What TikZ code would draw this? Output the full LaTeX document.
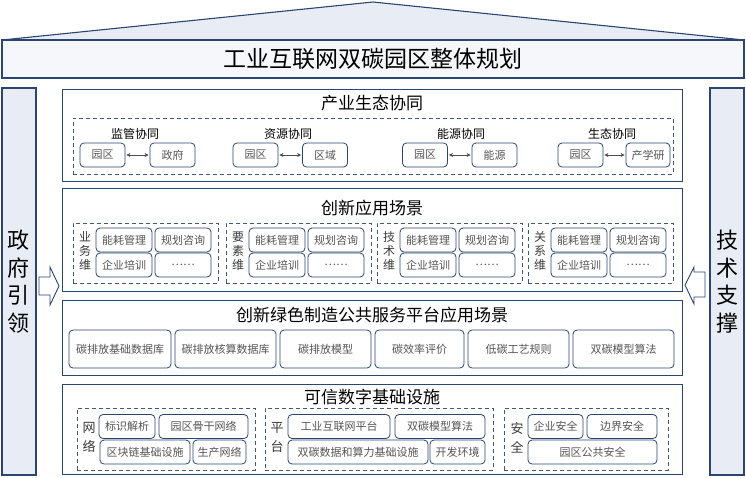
\documentclass[tikz,border=0pt]{standalone}
\usepackage{fontspec}
\setmainfont{Noto Sans CJK SC}
\usetikzlibrary{arrows.meta}
\newcommand{\fsz}[2]{\fontsize{#1}{#2}\selectfont}

\definecolor{navy}{HTML}{2B4570}
\definecolor{panelfill}{HTML}{E8EDF5}
\definecolor{boxfill}{HTML}{F5F7FA}
\definecolor{txtgray}{HTML}{555555}
\definecolor{lblgray}{HTML}{3A3A3A}

\tikzset{
    panel/.style={draw=navy, line width=1.1pt, fill=panelfill, inner sep=0pt},
    section/.style={draw=navy, line width=1pt, fill=white, inner sep=0pt},
    dashbox/.style={draw=navy!90, line width=0.9pt, dash pattern=on 4pt off 3pt, inner sep=0pt},
    item/.style={draw=navy, line width=0.8pt, rounded corners=4pt, fill=white, inner sep=1pt,
        minimum height=24, font=\fsz{11}{13}, text=txtgray},
    sectitle/.style={font=\fsz{17}{20}, text=black},
    grptitle/.style={font=\fsz{12}{14}, text=black},
    vlabel/.style={align=center, inner sep=0pt, text=lblgray},
    link/.style={{Stealth[length=4pt,width=4pt]}-{Stealth[length=4pt,width=4pt]}, line width=0.6pt, black!70, shorten <=1pt, shorten >=1pt},
    blockarrow/.style={draw=navy, line width=0.9pt, fill=white, line join=miter},
}

\begin{document}
\begin{tikzpicture}[x=1pt, y=-1pt]
    \useasboundingbox (0,0) rectangle (746,477);

    % Roof and title
    \coordinate (roofL) at (2,40);
    \coordinate (roofT) at (373,2);
    \coordinate (roofR) at (744,40);
    \draw[panel] (roofL) -- (roofT) -- (roofR) -- cycle;
    \node[panel, fill=boxfill, minimum width=742, minimum height=38, font=\fsz{23}{26}] (plan) at (373,59) {工业互联网双碳园区整体规划};

    % Side panels
    \node[panel, minimum width=34, minimum height=387, align=center, font=\fsz{22}{27.5}] (gov) at (19,281.5) {政\\府\\引\\领};
    \node[panel, minimum width=34, minimum height=387, align=center, font=\fsz{22}{27.5}] (tech) at (727,281.5) {技\\术\\支\\撑};

    % Block arrows
    \draw[blockarrow] (39,277) -- (50,277) -- (50,267) -- (59,286) -- (50,305) -- (50,295) -- (39,295) -- cycle;
    \draw[blockarrow] (705,272) -- (694,272) -- (694,267) -- (685,285) -- (694,304) -- (694,297) -- (705,297) -- cycle;

    % Industry ecology
    \node[section, minimum width=620, minimum height=92] (eco) at (372,135) {};
    \node[sectitle] (ecoT) at (372,103) {产业生态协同};
    \node[dashbox, minimum width=600, minimum height=56] (ecoD) at (373,146) {};

    \node[grptitle] (sup) at (135,134) {监管协同};
    \node[item, minimum width=45] (supA) at (102.5,155) {园区};
    \node[item, minimum width=45] (supB) at (172.5,155) {政府};
    \draw[link] (supA) -- (supB);

    \node[grptitle] (res) at (288,134) {资源协同};
    \node[item, minimum width=45] (resA) at (255.5,155) {园区};
    \node[item, minimum width=45] (resB) at (325,155) {区域};
    \draw[link] (resA) -- (resB);

    \node[grptitle] (ene) at (461,134) {能源协同};
    \node[item, minimum width=45] (eneA) at (425,155) {园区};
    \node[item, minimum width=45] (eneB) at (494.5,155) {能源};
    \draw[link] (eneA) -- (eneB);

    \node[grptitle] (bio) at (612,134) {生态协同};
    \node[item, minimum width=45] (bioA) at (580.5,155) {园区};
    \node[item, minimum width=44] (bioB) at (648,155) {产学研};
    \draw[link] (bioA) -- (bioB);

    % Innovation scenes
    \node[section, minimum width=620, minimum height=103] (app) at (372,239.5) {};
    \node[sectitle] (appT) at (372,208) {创新应用场景};

    \node[dashbox, minimum width=145, minimum height=60] (bizD) at (145.5,253) {};
    \node[vlabel, font=\fsz{12}{14}] (biz) at (85,251) {业\\务\\维};
    \node[item, minimum width=56] (biz1) at (124,240) {能耗管理};
    \node[item, minimum width=56] (biz2) at (183,240) {规划咨询};
    \node[item, minimum width=56] (biz3) at (124,265) {企业培训};
    \node[item, minimum width=56] (biz4) at (183,265) {……};

    \node[dashbox, minimum width=145, minimum height=60] (facD) at (298.5,253) {};
    \node[vlabel, font=\fsz{12}{14}] (fac) at (238,251) {要\\素\\维};
    \node[item, minimum width=56] (fac1) at (277,240) {能耗管理};
    \node[item, minimum width=56] (fac2) at (336,240) {规划咨询};
    \node[item, minimum width=56] (fac3) at (277,265) {企业培训};
    \node[item, minimum width=56] (fac4) at (336,265) {……};

    \node[dashbox, minimum width=145, minimum height=60] (tecD) at (449.5,253) {};
    \node[vlabel, font=\fsz{12}{14}] (tec) at (389,251) {技\\术\\维};
    \node[item, minimum width=56] (tec1) at (428,240) {能耗管理};
    \node[item, minimum width=56] (tec2) at (487,240) {规划咨询};
    \node[item, minimum width=56] (tec3) at (428,265) {企业培训};
    \node[item, minimum width=56] (tec4) at (487,265) {……};

    \node[dashbox, minimum width=145, minimum height=60] (relD) at (600.5,253) {};
    \node[vlabel, font=\fsz{12}{14}] (rel) at (540,251) {关\\系\\维};
    \node[item, minimum width=56] (rel1) at (579,240) {能耗管理};
    \node[item, minimum width=56] (rel2) at (638,240) {规划咨询};
    \node[item, minimum width=56] (rel3) at (579,265) {企业培训};
    \node[item, minimum width=56] (rel4) at (638,265) {……};

    % Green manufacturing platform
    \node[section, minimum width=620, minimum height=75] (plat) at (372,337.5) {};
    \node[sectitle] (platT) at (372,315) {创新绿色制造公共服务平台应用场景};
    \node[item, minimum width=102, minimum height=38] (plat1) at (120,349) {碳排放基础数据库};
    \node[item, minimum width=101, minimum height=38] (plat2) at (225.5,349) {碳排放核算数据库};
    \node[item, minimum width=91, minimum height=38] (plat3) at (325.5,349) {碳排放模型};
    \node[item, minimum width=89, minimum height=38] (plat4) at (419.5,349) {碳效率评价};
    \node[item, minimum width=101, minimum height=38] (plat5) at (518.5,349) {低碳工艺规则};
    \node[item, minimum width=101, minimum height=38] (plat6) at (623.5,349) {双碳模型算法};

    % Trusted digital infrastructure
    \node[section, minimum width=620, minimum height=90] (infra) at (372,429) {};
    \node[sectitle] (infraT) at (372,397) {可信数字基础设施};

    \node[dashbox, minimum width=178, minimum height=62] (netD) at (166,439) {};
    \node[vlabel, font=\fsz{13}{19}] (net) at (89,437.5) {网\\络};
    \node[item, minimum width=56] (net1) at (127,426.5) {标识解析};
    \node[item, minimum width=89] (net2) at (203.5,426.5) {园区骨干网络};
    \node[item, minimum width=90] (net3) at (145,452) {区块链基础设施};
    \node[item, minimum width=53] (net4) at (219.5,452) {生产网络};

    \node[dashbox, minimum width=228, minimum height=62] (pfD) at (379,439) {};
    \node[vlabel, font=\fsz{13}{19}] (pf) at (277,437.5) {平\\台};
    \node[item, minimum width=102] (pf1) at (339,426.5) {工业互联网平台};
    \node[item, minimum width=90] (pf2) at (440,426.5) {双碳模型算法};
    \node[item, minimum width=140] (pf3) at (358,452) {双碳数据和算力基础设施};
    \node[item, minimum width=55] (pf4) at (457.5,452) {开发环境};

    \node[dashbox, minimum width=164, minimum height=62] (secD) at (586,439) {};
    \node[vlabel, font=\fsz{13}{19}] (sec) at (517,437.5) {安\\全};
    \node[item, minimum width=55] (sec1) at (555.5,426.5) {企业安全};
    \node[item, minimum width=70] (sec2) at (622,426.5) {边界安全};
    \node[item, minimum width=129] (sec3) at (592.5,452) {园区公共安全};

\end{tikzpicture}
\end{document}
